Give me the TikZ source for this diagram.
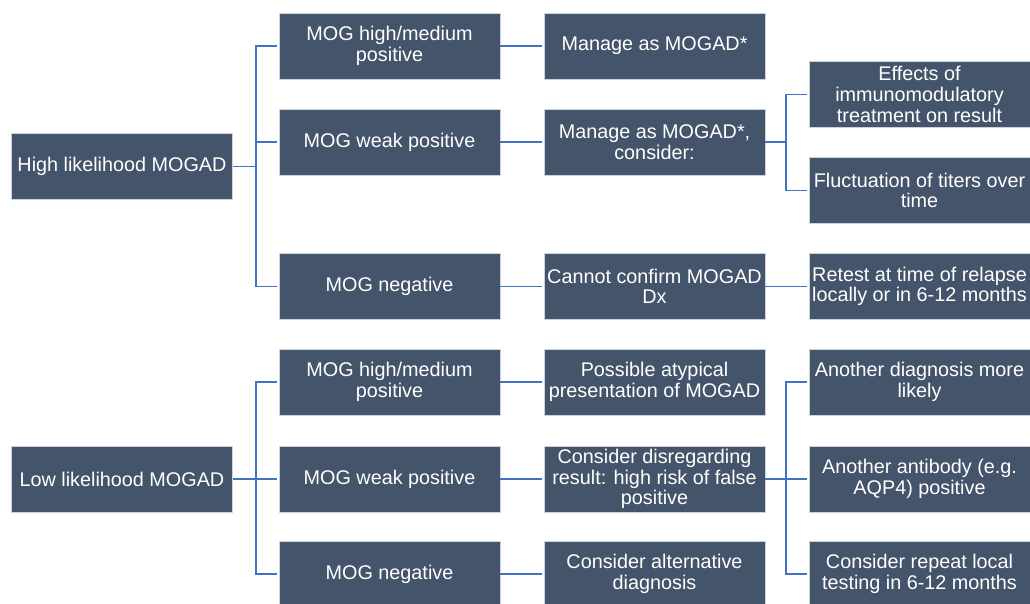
\documentclass[tikz,border=0pt]{standalone}
\usepackage{fontspec}
\setmainfont{Liberation Sans}
\definecolor{boxfill}{RGB}{68,84,106}
\definecolor{boxline}{RGB}{205,210,218}
\definecolor{linkblue}{RGB}{68,114,196}
\tikzset{
  box/.style={draw=boxline, line width=0.8pt, fill=boxfill, text=white, minimum width=221pt, minimum height=66pt, inner sep=1pt, align=center, font=\fontsize{19.8}{20.6}\selectfont},
  link/.style={draw=linkblue, line width=1.5pt, shorten >=1.5pt}
}
\begin{document}
\begin{tikzpicture}[x=1pt,y=-1pt]
\useasboundingbox (0,0) rectangle (1030,604);
\clip (0,0) rectangle (1030,604);
% high likelihood
\node[box](hi) at (122,166.5){High likelihood MOGAD};
\node[box](ha) at (389.5,46){MOG high/medium\\positive};
\node[box](hb) at (389.5,142){MOG weak positive};
\node[box](hc) at (389.5,286.5){MOG negative};
\node[box](ma) at (654.5,46){Manage as MOGAD*};
\node[box](mb) at (654.5,142){Manage as MOGAD*,\\consider:};
\node[box](mc) at (654.5,286.5){Cannot confirm MOGAD\\Dx};
\node[box](ea) at (919.5,94.5){Effects of\\immunomodulatory\\treatment on result};
\node[box](eb) at (919.5,190.5){Fluctuation of titers over\\time};
\node[box](ec) at (919.5,286.5){Retest at time of relapse\\locally or in 6-12 months};
\coordinate (hj) at (256,166.5);
\coordinate (mj) at (786,142);
\draw[link] (hi) -- (hj);
\draw[link] (hj) |- (ha);
\draw[link] (hj) |- (hb);
\draw[link] (hj) |- (hc);
\draw[link] (ha) -- (ma);
\draw[link] (hb) -- (mb);
\draw[link] (hc) -- (mc);
\draw[link] (mb) -- (mj);
\draw[link] (mj) |- (ea);
\draw[link] (mj) |- (eb);
\draw[link] (mc) -- (ec);
% low likelihood
\node[box](lo) at (122,479){Low likelihood MOGAD};
\node[box](la) at (389.5,382){MOG high/medium\\positive};
\node[box](lb) at (389.5,479){MOG weak positive};
\node[box](lc) at (389.5,574){MOG negative};
\node[box](pa) at (654.5,382){Possible atypical\\presentation of MOGAD};
\node[box](pb) at (654.5,479){Consider disregarding\\result: high risk of false\\positive};
\node[box](pc) at (654.5,574){Consider alternative\\diagnosis};
\node[box](qa) at (919.5,382){Another diagnosis more\\likely};
\node[box](qb) at (919.5,479){Another antibody (e.g.\\AQP4) positive};
\node[box](qc) at (919.5,574){Consider repeat local\\testing in 6-12 months};
\coordinate (lj) at (256,479);
\coordinate (pj) at (786,479);
\draw[link] (lo) -- (lj);
\draw[link] (lj) |- (la);
\draw[link] (lj) -- (lb);
\draw[link] (lj) |- (lc);
\draw[link] (la) -- (pa);
\draw[link] (lb) -- (pb);
\draw[link] (lc) -- (pc);
\draw[link] (pb) -- (pj);
\draw[link] (pj) |- (qa);
\draw[link] (pj) -- (qb);
\draw[link] (pj) |- (qc);
\end{tikzpicture}
\end{document}
